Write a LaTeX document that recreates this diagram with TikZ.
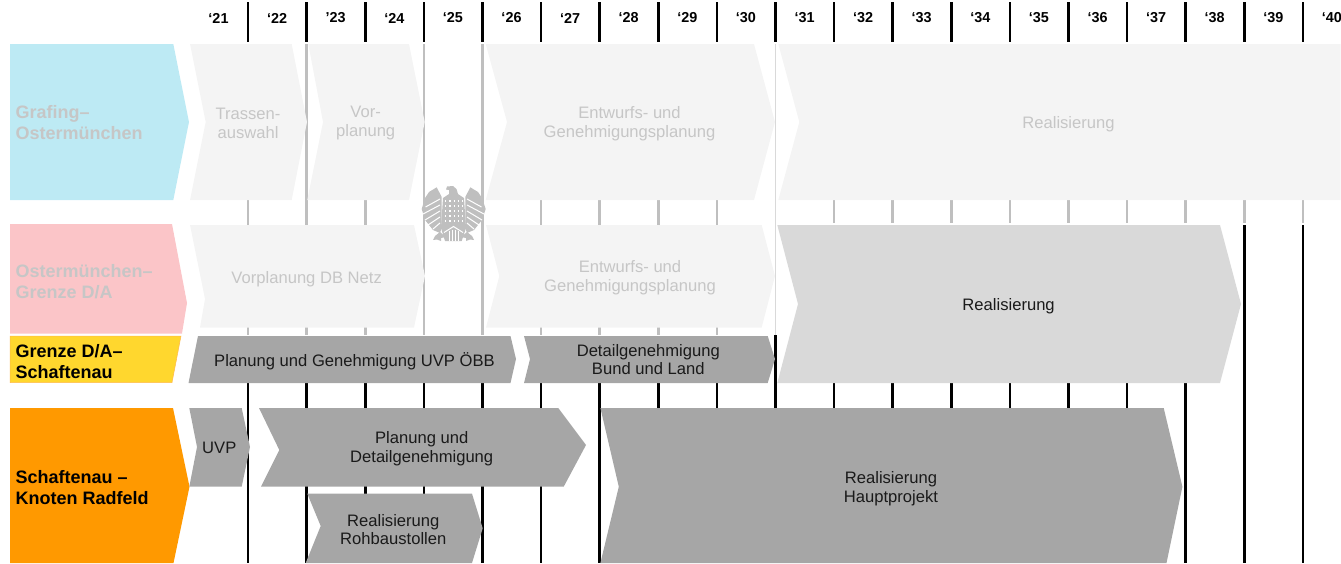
\documentclass[tikz,border=0pt]{standalone}
\usepackage{fontspec}
\setmainfont{Liberation Sans}
\usepackage{xcolor}
\definecolor{ghostblock}{HTML}{F4F4F4}
\definecolor{ghosttext}{HTML}{C6C6C6}
\definecolor{ghostline}{HTML}{BFBFBF}
\definecolor{lightblock}{HTML}{D9D9D9}
\definecolor{darkblock}{HTML}{A6A6A6}
\definecolor{bodytext}{HTML}{1A1A1A}
\definecolor{rowblue}{HTML}{BDEAF4}
\definecolor{rowpink}{HTML}{FBC5C8}
\definecolor{rowyellow}{HTML}{FFD72E}
\definecolor{roworange}{HTML}{FF9900}
\newcommand{\bodysize}{\fontsize{16.6}{18.8}\selectfont}
\newcommand{\rowsize}{\fontsize{18}{21}\selectfont\bfseries}
\newcommand{\yearsize}{\fontsize{14.4}{16}\selectfont\bfseries}

\begin{document}
\begin{tikzpicture}[x=1pt,y=-1pt]
\tikzstyle{every node}=[font=\bodysize, inner sep=0pt, align=center, text=bodytext]
\tikzstyle{yearline}=[line width=2.6pt, black]
\tikzstyle{fadeline}=[line width=2.6pt, ghostline]
\tikzstyle{ghost}=[fill=ghostblock]
\tikzstyle{ghostlabel}=[text=ghosttext]
\tikzstyle{rowlabel}=[font=\rowsize, anchor=west, align=left]
\tikzstyle{yearlabel}=[font=\yearsize, text=black]
\path [use as bounding box] (0,0) rectangle (1341,563);
% year ticks
\draw [yearline] (248,2) -- (248,42);
\draw [yearline] (306.6,2) -- (306.6,42);
\draw [yearline] (365.2,2) -- (365.2,42);
\draw [yearline] (423.8,2) -- (423.8,42);
\draw [yearline] (482.4,2) -- (482.4,42);
\draw [yearline] (541,2) -- (541,42);
\draw [yearline] (599.6,2) -- (599.6,42);
\draw [yearline] (658.2,2) -- (658.2,42);
\draw [yearline] (716.8,2) -- (716.8,42);
\draw [yearline] (775.4,2) -- (775.4,42);
\draw [yearline] (834,2) -- (834,42);
\draw [yearline] (892.6,2) -- (892.6,42);
\draw [yearline] (951.2,2) -- (951.2,42);
\draw [yearline] (1009.8,2) -- (1009.8,42);
\draw [yearline] (1068.4,2) -- (1068.4,42);
\draw [yearline] (1127,2) -- (1127,42);
\draw [yearline] (1185.6,2) -- (1185.6,42);
\draw [yearline] (1244.2,2) -- (1244.2,42);
\draw [yearline] (1302.8,2) -- (1302.8,42);
% faded part of the ticks
\draw [fadeline] (248,44) -- (248,335);
\draw [fadeline] (306.6,44) -- (306.6,335);
\draw [fadeline] (365.2,44) -- (365.2,335);
\draw [fadeline] (423.8,44) -- (423.8,335);
\draw [fadeline] (482.4,44) -- (482.4,335);
\draw [fadeline] (541,44) -- (541,335);
\draw [fadeline] (599.6,44) -- (599.6,335);
\draw [fadeline] (658.2,44) -- (658.2,335);
\draw [fadeline] (716.8,44) -- (716.8,335);
\draw [line width=1.2pt, lightblock] (775.4,44) -- (775.4,335);
\draw [fadeline] (834,44) -- (834,222.7);
\draw [fadeline] (892.6,44) -- (892.6,222.7);
\draw [fadeline] (951.2,44) -- (951.2,222.7);
\draw [fadeline] (1009.8,44) -- (1009.8,222.7);
\draw [fadeline] (1068.4,44) -- (1068.4,222.7);
\draw [fadeline] (1127,44) -- (1127,222.7);
\draw [fadeline] (1185.6,44) -- (1185.6,222.7);
\draw [fadeline] (1244.2,44) -- (1244.2,222.7);
\draw [fadeline] (1302.8,44) -- (1302.8,222.7);
% black part of the ticks
\draw [yearline] (248,336) -- (248,563);
\draw [yearline] (306.6,336) -- (306.6,563);
\draw [yearline] (365.2,336) -- (365.2,563);
\draw [yearline] (423.8,336) -- (423.8,563);
\draw [yearline] (482.4,336) -- (482.4,563);
\draw [yearline] (541,336) -- (541,563);
\draw [yearline] (599.6,336) -- (599.6,563);
\draw [yearline] (658.2,336) -- (658.2,563);
\draw [yearline] (716.8,336) -- (716.8,563);
\draw [yearline] (775.4,335) -- (775.4,563);
\draw [yearline] (834,225) -- (834,563);
\draw [yearline] (892.6,225) -- (892.6,563);
\draw [yearline] (951.2,225) -- (951.2,563);
\draw [yearline] (1009.8,225) -- (1009.8,563);
\draw [yearline] (1068.4,225) -- (1068.4,563);
\draw [yearline] (1127,225) -- (1127,563);
\draw [yearline] (1185.6,225) -- (1185.6,563);
\draw [yearline] (1244.2,225) -- (1244.2,563);
\draw [yearline] (1302.8,225) -- (1302.8,563);
% years
\node [yearlabel] (y21) at (218.5,18) {‘21};
\node [yearlabel] (y22) at (277.1,18) {‘22};
\node [yearlabel] (y23) at (335.7,18) {’23};
\node [yearlabel] (y24) at (394.3,18) {‘24};
\node [yearlabel] (y25) at (452.9,18) {‘25};
\node [yearlabel] (y26) at (511.5,18) {‘26};
\node [yearlabel] (y27) at (570.1,18) {‘27};
\node [yearlabel] (y28) at (628.7,18) {‘28};
\node [yearlabel] (y29) at (687.3,18) {‘29};
\node [yearlabel] (y30) at (745.9,18) {‘30};
\node [yearlabel] (y31) at (804.5,18) {‘31};
\node [yearlabel] (y32) at (863.1,18) {‘32};
\node [yearlabel] (y33) at (921.7,18) {‘33};
\node [yearlabel] (y34) at (980.3,18) {‘34};
\node [yearlabel] (y35) at (1038.9,18) {‘35};
\node [yearlabel] (y36) at (1097.5,18) {‘36};
\node [yearlabel] (y37) at (1156.1,18) {‘37};
\node [yearlabel] (y38) at (1214.7,18) {‘38};
\node [yearlabel] (y39) at (1273.3,18) {‘39};
\node [yearlabel] (y40) at (1331.9,18) {‘40};
% row heads
\fill [rowblue] (10,44) -- (173.3,44) -- (189,122) -- (173.3,200) -- (10,200) -- cycle;
\fill [rowpink] (10,224) -- (172,224) -- (187,303) -- (182,333.5) -- (10,333.5) -- cycle;
\fill [rowyellow, draw=roworange!70, line width=0.5pt] (10,336) -- (181,336) -- (172,382.5) -- (10,382.5) -- cycle;
\fill [roworange] (10,408) -- (173,408) -- (189.5,486.7) -- (173.5,563) -- (10,563) -- cycle;
\node [rowlabel, text=ghosttext] (grafing) at (15.5,123) {Grafing–\\Ostermünchen};
\node [rowlabel, text=ghosttext] (ostermuenchen) at (15.5,281.5) {Ostermünchen–\\Grenze D/A};
\node [rowlabel, text=black] (grenze) at (15.5,361.5) {Grenze D/A–\\Schaftenau};
\node [rowlabel, text=black] (schaftenau) at (15.5,488) {Schaftenau –\\Knoten Radfeld};
% first row
\fill [ghost] (190,44) -- (291.7,44) -- (307,122) -- (291.7,200) -- (190,200) -- (205.7,122) -- cycle;
\fill [ghost] (308.3,44) -- (409,44) -- (424.7,122) -- (409,200) -- (307.3,200) -- (323,122) -- cycle;
\fill [ghost] (485.7,44) -- (754,44) -- (775,122) -- (754,200) -- (485.7,200) -- (507,122) -- cycle;
\fill [ghost] (778.3,44) -- (1340.7,44) -- (1340.7,200) -- (778.3,200) -- (799.3,122) -- cycle;
\node [ghostlabel] (trassen) at (248,123) {Trassen-\\auswahl};
\node [ghostlabel] (vor) at (365.7,123) {Vor-\\planung};
\node [ghostlabel] (entwurf1) at (629.5,123.5) {Entwurfs- und\\Genehmigungsplanung};
\node [ghostlabel] (real1) at (1068.5,124) {Realisierung};
% second row
\fill [ghost] (190,225) -- (414,225) -- (425,276) -- (414,327.5) -- (200,327.5) -- (205,299) -- cycle;
\fill [ghost] (486,225) -- (761.7,225) -- (775,276) -- (761.7,327.5) -- (486,327.5) -- (499.3,276) -- cycle;
\fill [lightblock] (777.3,225) -- (1220,225) -- (1241,304) -- (1220,383) -- (777.3,383) -- (798,304) -- cycle;
\node [ghostlabel] (vorplanung) at (306.7,279) {Vorplanung DB Netz};
\node [ghostlabel] (entwurf2) at (630,278) {Entwurfs- und\\Genehmigungsplanung};
\node (real2) at (1008.6,306) {Realisierung};
% third row
\fill [darkblock] (198,336) -- (510.5,336) -- (516,359) -- (510.5,383) -- (188.5,383) -- cycle;
\fill [darkblock] (524,336) -- (767.7,336) -- (775,359) -- (767.7,383) -- (524,383) -- (530,359) -- cycle;
\node (uvpoebb) at (354.5,361) {Planung und Genehmigung UVP ÖBB};
\node (detailbund) at (648.3,359.5) {Detailgenehmigung\\Bund und Land};
% fourth row
\fill [darkblock] (189.3,408) -- (241.7,408) -- (250,447) -- (241.7,486.7) -- (189.3,486.7) -- (197,447) -- cycle;
\fill [darkblock] (259,408) -- (558.3,408) -- (586,445) -- (563.7,486.7) -- (261,486.7) -- (279.3,450) -- cycle;
\fill [darkblock] (307.3,493.7) -- (472,493.7) -- (482.7,528.3) -- (472,563) -- (305.7,563) -- (320.7,526) -- cycle;
\fill [darkblock] (600.4,408) -- (1163.7,408) -- (1182.4,486.7) -- (1166.5,563) -- (600.4,563) -- (618.8,486.7) -- cycle;
\node (uvp) at (219.3,448.3) {UVP};
\node (detail) at (421.7,449) {Planung und\\Detailgenehmigung};
\node (rohbau) at (393.3,529.5) {Realisierung\\Rohbaustollen};
\node (haupt) at (891,488.5) {Realisierung\\Hauptprojekt};
% eagle
\fill [ghostline] (441.7,197) -- (436.7,187.3) -- (429,192) -- (425,198) -- (421.7,209) -- (425,220) -- (433,230) -- (440,233) -- (441.7,228) -- cycle;
\fill [ghostline] (465.3,197) -- (470.3,187.3) -- (478,192) -- (482,198) -- (485.7,209) -- (482,220) -- (474,230) -- (467,233) -- (465.3,228) -- cycle;
\fill [ghostline] (447,186.5) -- (453,186) -- (456.5,189) -- (458,194) -- (464,198) -- (466,228) -- (461.7,241) -- (445,241) -- (441,228) -- (443,198) -- (449,194) -- (449,190) -- (446,189.5) -- cycle;
\fill [ghostline] (440,232) -- (446,237) -- (441,238) -- (441,241) -- (437,239.5) -- (433,240) -- (435,236) -- cycle;
\fill [ghostline] (467,232) -- (461,237) -- (466,238) -- (466,241) -- (470,239.5) -- (474,240) -- (472,236) -- cycle;
\draw [white, line width=1pt] (440,199) -- (425.5,207);
\draw [white, line width=1pt] (440,205) -- (423,214);
\draw [white, line width=1pt] (440,211) -- (425,220);
\draw [white, line width=1pt] (440,217) -- (428,225);
\draw [white, line width=1pt] (440,223) -- (433,229);
\draw [white, line width=1pt] (467,199) -- (481.5,207);
\draw [white, line width=1pt] (467,205) -- (484,214);
\draw [white, line width=1pt] (467,211) -- (482,220);
\draw [white, line width=1pt] (467,217) -- (479,225);
\draw [white, line width=1pt] (467,223) -- (474,229);
\draw [white, line width=1.1pt, dash pattern=on 1.3pt off 3pt] (445,201) -- (463,201);
\draw [white, line width=1.1pt, dash pattern=on 1.3pt off 3pt] (445,206) -- (463,206);
\draw [white, line width=1.1pt, dash pattern=on 1.3pt off 3pt] (445,211) -- (463,211);
\draw [white, line width=1.1pt, dash pattern=on 1.3pt off 3pt] (445,216) -- (463,216);
\draw [white, line width=1.1pt, dash pattern=on 1.3pt off 3pt] (445,221) -- (463,221);
\draw [white, line width=1pt] (444,232.5) -- (453.5,226.5) -- (463,232.5);
\draw [white, line width=1pt] (449,231) -- (449,241);
\draw [white, line width=1pt] (452,229.5) -- (452,241);
\draw [white, line width=1pt] (455,229.5) -- (455,241);
\draw [white, line width=1pt] (458,231) -- (458,241);
\end{tikzpicture}
\end{document}
